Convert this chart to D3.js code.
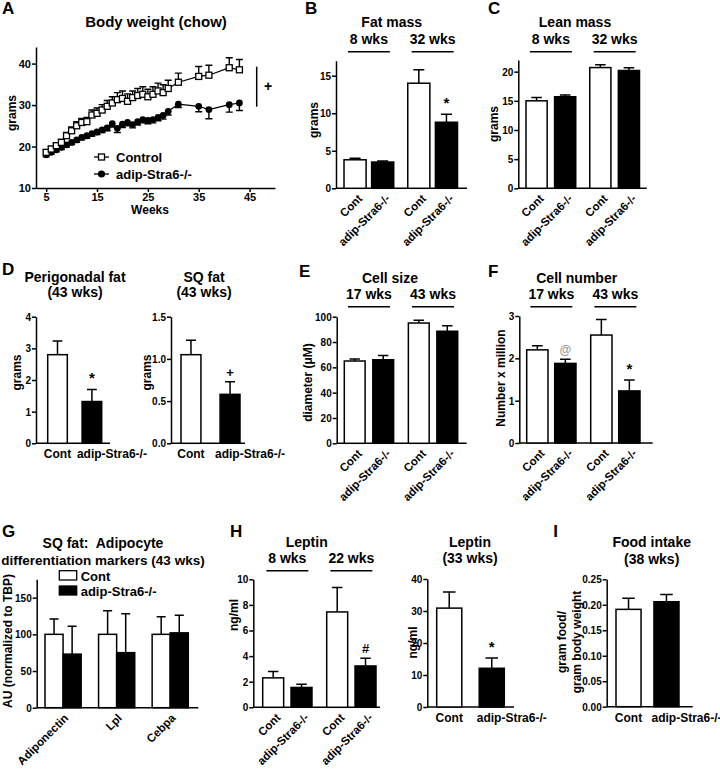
<!DOCTYPE html>
<html><head><meta charset="utf-8">
<script src="https://cdn.jsdelivr.net/npm/d3@7"></script>
<style>
body{margin:0;background:#fff}
svg{display:block}
text{font-family:"Liberation Sans",Arial,Helvetica,sans-serif;font-weight:bold;fill:#000}
</style>
</head><body>
<svg id="chart" width="720" height="770"></svg>
<script>
// ---------------- DATA ----------------
// Panel A: body weight (chow)
const weeksA = [5,6,7,8,9,10,11,12,13,14,15,16,17,18,19,20,21,22,23,24,25,26,27,28,29,31,35,37,41,43];
const controlA = [18.6,19.4,20.2,21.0,22.6,23.8,25.0,25.8,26.0,27.6,28.0,28.8,29.7,30.5,31.3,31.6,30.9,31.8,32.3,32.6,32.0,32.6,33.4,33.0,34.0,35.5,36.9,37.2,39.0,38.5];
const controlErrA = [0.6,0.6,0.6,0.7,0.8,0.9,1.0,1.0,1.0,1.2,1.3,1.3,1.4,1.5,1.7,1.8,1.8,1.6,1.7,1.8,1.8,1.8,1.9,1.9,2.0,2.2,2.4,2.4,2.4,2.5];
const stra6A = [18.0,18.6,19.2,19.8,20.4,21.0,21.6,22.2,22.6,23.1,23.5,24.0,24.5,25.5,24.4,25.4,25.8,25.3,26.0,26.5,26.3,26.5,27.0,27.5,28.5,30.2,29.7,28.9,30.1,30.5];
const stra6ErrA = [0.5,0.5,0.5,0.5,0.5,0.5,0.6,0.6,0.6,0.6,0.6,0.6,0.7,0.8,1.0,0.8,0.8,0.8,0.8,0.8,0.8,0.8,0.8,0.9,0.9,0.8,1.3,2.2,1.8,1.8];
const weekTicksA = [5,15,25,35,45];
const gramTicksA = [10,20,30,40];
const seriesNamesA = ["Control","adip-Stra6-/-"];

const genotypes = ["Cont","adip-Stra6-/-"];

// Panel B: fat mass
const agesB = ["8 wks","32 wks"];
const fatMassB = [3.8,3.5,14.0,8.8];
const fatMassErrB = [0.2,0.15,1.8,1.05];
const fatMassSigB = ["","","","*"];
const ticksB = [0,5,10,15];

// Panel C: lean mass
const agesC = ["8 wks","32 wks"];
const leanMassC = [15.0,15.7,20.7,20.2];
const leanMassErrC = [0.55,0.3,0.5,0.45];
const ticksC = [0,5,10,15,20];

// Panel D: perigonadal and SQ fat (43 wks)
const perigonadalD = [2.8,1.32];
const perigonadalErrD = [0.43,0.38];
const perigonadalSigD = ["","*"];
const ticksD1 = [0,1,2,3,4];
const sqFatD = [1.05,0.58];
const sqFatErrD = [0.17,0.15];
const sqFatSigD = ["","+"];
const ticksD2 = [0,0.5,1.0,1.5];

// Panel E: cell size
const agesE = ["17 wks","43 wks"];
const cellSizeE = [65.0,66.0,95.0,88.5];
const cellSizeErrE = [1.6,3.3,2.1,4.3];
const ticksE = [0,20,40,60,80,100];

// Panel F: cell number
const agesF = ["17 wks","43 wks"];
const cellNumberF = [2.2,1.88,2.55,1.23];
const cellNumberErrF = [0.1,0.1,0.37,0.26];
const cellNumberSigF = ["","@","","*"];
const ticksF = [0,1,2,3];

// Panel G: SQ fat adipocyte differentiation markers
const markersG = ["Adiponectin","Lpl","Cebpa"];
const contG = [100,100,100];
const contErrG = [21,32,24];
const stra6G = [73,75,102];
const stra6ErrG = [38,53,24];
const ticksG = [0,50,100,150];

// Panel H: leptin
const agesH = ["8 wks","22 wks"];
const leptinH = [2.3,1.55,7.45,3.23];
const leptinErrH = [0.5,0.25,1.9,0.6];
const leptinSigH = ["","","","#"];
const ticksH1 = [0,2,4,6,8,10];
const leptin33H = [30.9,12.1];
const leptin33ErrH = [5.0,3.2];
const leptin33SigH = ["","*"];
const ticksH2 = [0,10,20,30,40];

// Panel I: food intake
const foodI = [0.191,0.206];
const foodErrI = [0.022,0.014];
const ticksI = [0,0.05,0.10,0.15,0.20,0.25];

// ---------------- DRAWING ----------------
const svg = d3.select("#chart");
const FONT = '"Liberation Sans", Arial, Helvetica, sans-serif';

function T(x,y,s,size,anchor,rot,fill){
  const t = svg.append("text").attr("x",x).attr("y",y).text(s)
    .attr("font-size",size).attr("text-anchor",anchor||"middle");
  if(rot!==undefined && rot!==null) t.attr("transform",`rotate(${rot},${x},${y})`);
  if(fill) t.style("fill",fill);
  return t;
}
function L(x1,y1,x2,y2,w){
  return svg.append("line").attr("x1",x1).attr("y1",y1).attr("x2",x2).attr("y2",y2)
    .attr("stroke","#000").attr("stroke-width",w||1.5);
}
function axisY(y,x,ticks,fmt,fs){
  const g = svg.append("g").attr("transform",`translate(${x},0)`)
    .call(d3.axisLeft(y).tickValues(ticks).tickFormat(fmt).tickSize(4).tickSizeOuter(0));
  g.attr("font-family",FONT).attr("font-size",fs);
  g.select(".domain").attr("stroke","#000").attr("stroke-width",1.5);
  g.selectAll(".tick line").attr("stroke","#000").attr("stroke-width",1.5);
  g.selectAll(".tick text").attr("x",-5).attr("dy","0.34em");
  return g;
}
function yTitle(x,y,lines,fs){
  lines.forEach((s,i)=>T(x+i*15,y,s,fs||12,"middle",-90));
}

// ----- Panel A -----
(function(){
  const x = d3.scaleLinear().domain([3,50]).range([36,275]);
  const y = d3.scaleLinear().domain([10,44]).range([188,47]);
  axisY(y,36,gramTicksA,d3.format("d"),11);
  const gx = svg.append("g").attr("transform","translate(0,188)")
    .call(d3.axisBottom(x).tickValues(weekTicksA).tickSize(4).tickSizeOuter(0));
  gx.attr("font-family",FONT).attr("font-size",11);
  gx.select(".domain").attr("stroke","#000").attr("stroke-width",1.5);
  gx.selectAll(".tick line").attr("stroke","#000").attr("stroke-width",1.5);
  gx.selectAll(".tick text").attr("y",5);

  const ctrl = weeksA.map((w,i)=>({w,v:controlA[i],e:controlErrA[i]}));
  const ko = weeksA.map((w,i)=>({w,v:stra6A[i],e:stra6ErrA[i]}));
  const line = d3.line().x(d=>x(d.w)).y(d=>y(d.v));
  const g = svg.append("g");
  // knockout series
  g.append("path").datum(ko).attr("d",line).attr("fill","none").attr("stroke","#000").attr("stroke-width",1.2);
  g.selectAll(".koe").data(ko).join("path").attr("class","koe")
    .attr("d",d=>`M${x(d.w)},${y(d.v)}V${y(d.v-d.e)}M${x(d.w)-3.5},${y(d.v-d.e)}H${x(d.w)+3.5}`)
    .attr("stroke","#000").attr("stroke-width",1.4).attr("fill","none");
  g.selectAll(".kop").data(ko).join("circle").attr("class","kop")
    .attr("cx",d=>x(d.w)).attr("cy",d=>y(d.v)).attr("r",3.4).attr("fill","#000");
  // control series
  g.append("path").datum(ctrl).attr("d",line).attr("fill","none").attr("stroke","#000").attr("stroke-width",1.2);
  g.selectAll(".ce").data(ctrl).join("path").attr("class","ce")
    .attr("d",d=>`M${x(d.w)},${y(d.v)}V${y(d.v+d.e)}M${x(d.w)-3.5},${y(d.v+d.e)}H${x(d.w)+3.5}`)
    .attr("stroke","#000").attr("stroke-width",1.4).attr("fill","none");
  g.selectAll(".cp").data(ctrl).join("rect").attr("class","cp")
    .attr("x",d=>x(d.w)-3).attr("y",d=>y(d.v)-3).attr("width",6).attr("height",6)
    .attr("fill","#fff").attr("stroke","#000").attr("stroke-width",1.3);

  // legend
  L(94,157,109,157,1.3);
  svg.append("rect").attr("x",98.5).attr("y",154).attr("width",6).attr("height",6).attr("fill","#fff").attr("stroke","#000").attr("stroke-width",1.3);
  T(116,161.5,seriesNamesA[0],13,"start");
  L(94,174,109,174,1.3);
  svg.append("circle").attr("cx",101.5).attr("cy",174).attr("r",3.6).attr("fill","#000");
  T(116,178.5,seriesNamesA[1],13,"start");

  // significance bracket
  L(256.7,66.7,256.7,106.7,1.5);
  T(268,91,"+",14);

  T(2,14,"A",17,"start");
  T(156,27,"Body weight (chow)",15);
  T(150,214,"Weeks",12);
  yTitle(16,113,["grams"],12);
})();

// ----- Generic bar panel -----
function barPanel(o){
  const y = d3.scaleLinear().domain([0,o.max]).range([o.yBot,o.yTop]);
  axisY(y,o.axisX,o.ticks,o.fmt||(d=>d),10);
  L(o.axisX,o.yBot,o.axisEnd,o.yBot,1.5);
  const subs = o.subs || genotypes;
  const items = [];
  let xg = null;
  if(o.groups){
    xg = d3.scaleBand().domain(o.groups).range(o.barRange).paddingInner(o.groupPad);
    const xs = d3.scaleBand().domain(subs).range([0,xg.bandwidth()]).paddingInner(o.subPad);
    o.values.forEach((v,i)=>{
      const g = o.groups[Math.floor(i/subs.length)], s = subs[i%subs.length];
      items.push({v,e:o.errs[i],x:xg(g)+xs(s),w:xs.bandwidth(),k:i%subs.length,label:s,sig:o.sig?o.sig[i]:""});
    });
  } else {
    const xb = d3.scaleBand().domain(subs).range(o.barRange).paddingInner(o.pad);
    o.values.forEach((v,i)=>items.push({v,e:o.errs[i],x:xb(subs[i]),w:xb.bandwidth(),k:i,label:subs[i],sig:o.sig?o.sig[i]:""}));
  }
  const g = svg.append("g");
  g.selectAll(".eb").data(items).join("path").attr("class","eb")
    .attr("d",d=>{const cx=d.x+d.w/2, t=y(d.v+d.e); return `M${cx},${y(d.v)}V${t}M${cx-d.w/4},${t}H${cx+d.w/4}`;})
    .attr("stroke","#000").attr("stroke-width",1.5).attr("fill","none");
  g.selectAll(".bar").data(items).join("rect").attr("class","bar")
    .attr("x",d=>d.x).attr("y",d=>y(d.v)).attr("width",d=>d.w).attr("height",d=>o.yBot-y(d.v))
    .attr("fill",d=>d.k?"#000":"#fff").attr("stroke","#000").attr("stroke-width",1.5);
  items.filter(d=>d.sig).forEach(d=>{
    const cx=d.x+d.w/2, t=y(d.v+d.e);
    if(d.sig==="*") T(cx,t-6,d.sig,15);
    else if(d.sig==="@") T(cx,t-5,d.sig,12,"middle",null,"#999");
    else T(cx,t-5,d.sig,13);
  });
  // x labels
  if(o.labelMode==="rot"){
    items.forEach(d=>{const ax=d.x+d.w/2+8, ay=o.yBot+11; T(ax,ay,d.label,11.5,"end",-45);});
  } else if(o.labelMode==="flat"){
    items.forEach((d,i)=>{const cx=d.x+d.w/2; if(i===0) T(cx,o.yBot+15,d.label,12,"middle"); else T(cx-15,o.yBot+15,d.label,12,"start");});
  } else if(o.labelMode==="groupRot"){
    o.groups.forEach(gn=>{const cx=xg(gn)+xg.bandwidth()/2+6; T(cx,o.yBot+11,gn,11.5,"end",-45);});
  }
  if(o.headers && xg){
    o.groups.forEach(gn=>{const cx=xg(gn)+xg.bandwidth()/2; T(cx,o.headerY,gn,14); L(cx-21,o.headerY+7.4,cx+21,o.headerY+7.4,1.5);});
  }
  return {y,xg};
}

// ----- Panel B -----
barPanel({axisX:336,axisEnd:467,yTop:60.7,yBot:188.3,max:17,ticks:ticksB,groups:agesB,values:fatMassB,errs:fatMassErrB,sig:fatMassSigB,
  barRange:[344,457.5],groupPad:0.22,subPad:0.2,labelMode:"rot",headers:true,headerY:44.3});
T(305,14,"B",17,"start");
T(391.7,26.7,"Fat mass",14);
yTitle(318,120,["grams"],12);

// ----- Panel C -----
barPanel({axisX:518.3,axisEnd:646.7,yTop:60,yBot:188.3,max:22,ticks:ticksC,groups:agesC,values:leanMassC,errs:leanMassErrC,
  barRange:[526,639.5],groupPad:0.22,subPad:0.26,labelMode:"rot",headers:true,headerY:44.3});
T(488,14,"C",17,"start");
T(575,26.7,"Lean mass",14);
yTitle(498,124,["grams"],12);

// ----- Panel D -----
barPanel({axisX:36,axisEnd:110,yTop:316.7,yBot:443.3,max:4,ticks:ticksD1,values:perigonadalD,errs:perigonadalErrD,sig:perigonadalSigD,
  barRange:[47.7,101.7],pad:0.43,labelMode:"flat"});
barPanel({axisX:171,axisEnd:245,yTop:316.7,yBot:443.3,max:1.5,ticks:ticksD2,fmt:d3.format(".1f"),values:sqFatD,errs:sqFatErrD,sig:sqFatSigD,
  barRange:[181,240],pad:0.49,labelMode:"flat"});
T(2,275,"D",17,"start");
T(75,281.7,"Perigonadal fat",14);
T(75,297.3,"(43 wks)",14);
T(204,281.7,"SQ fat",14);
T(204,297.3,"(43 wks)",14);
yTitle(20.7,372.5,["grams"],12);
yTitle(150.7,372.5,["grams"],12);

// ----- Panel E -----
barPanel({axisX:336.7,axisEnd:466.7,yTop:316.7,yBot:443.3,max:100,ticks:ticksE,groups:agesE,values:cellSizeE,errs:cellSizeErrE,
  barRange:[344.3,457.7],groupPad:0.23,subPad:0.27,labelMode:"rot",headers:true,headerY:299.3});
T(299,276.7,"E",17,"start");
T(390,282.7,"Cell size",14);
yTitle(311.7,382.5,["diameter (\u03BCM)"],12);

// ----- Panel F -----
barPanel({axisX:519.3,axisEnd:652.7,yTop:316,yBot:443,max:3,ticks:ticksF,groups:agesF,values:cellNumberF,errs:cellNumberErrF,sig:cellNumberSigF,
  barRange:[526.7,640],groupPad:0.23,subPad:0.24,labelMode:"rot",headers:true,headerY:299.3});
T(488,276.7,"F",17,"start");
T(576.7,282.7,"Cell number",14);
yTitle(505,378,["Number x million"],12);

// ----- Panel G -----
barPanel({axisX:36.7,axisEnd:198.3,yTop:579.3,yBot:707.7,max:175,ticks:ticksG,groups:markersG,subs:genotypes,
  values:markersG.flatMap((m,i)=>[contG[i],stra6G[i]]),errs:markersG.flatMap((m,i)=>[contErrG[i],stra6ErrG[i]]),
  barRange:[45,188.3],groupPad:0.325,subPad:0,labelMode:"groupRot"});
T(2,536.7,"G",17,"start");
T(103,547.7,"SQ fat:\u00A0 Adipocyte",14);
T(103,565,"differentiation markers (43 wks)",13.5);
svg.append("rect").attr("x",59.3).attr("y",570.7).attr("width",17.4).attr("height",9.3).attr("fill","#fff").attr("stroke","#000").attr("stroke-width",1.3);
T(80.7,580.5,genotypes[0],13,"start");
svg.append("rect").attr("x",59.3).attr("y",586).attr("width",17.4).attr("height",9).attr("fill","#000").attr("stroke","#000").attr("stroke-width",1.3);
T(80.7,596,genotypes[1],13,"start");
yTitle(11.7,641,["AU (normalized to TBP)"],12);

// ----- Panel H -----
barPanel({axisX:253.3,axisEnd:380,yTop:579.3,yBot:707.3,max:10,ticks:ticksH1,groups:agesH,values:leptinH,errs:leptinErrH,sig:leptinSigH,
  barRange:[262.7,376],groupPad:0.23,subPad:0.26,labelMode:"rot",headers:true,headerY:563.3});
T(230,536.7,"H",17,"start");
T(306.7,546.7,"Leptin",14);
yTitle(238,615,["ng/ml"],12);
barPanel({axisX:427.3,axisEnd:514,yTop:579,yBot:707,max:40,ticks:ticksH2,values:leptin33H,errs:leptin33ErrH,sig:leptin33SigH,
  barRange:[436.7,504.3],pad:0.41,labelMode:"flat"});
T(470,546.7,"Leptin",14);
T(470,563.3,"(33 wks)",14);
yTitle(417,642.5,["ng/ml"],12);

// ----- Panel I -----
barPanel({axisX:606.7,axisEnd:692.7,yTop:579.3,yBot:706.7,max:0.25,ticks:ticksI,fmt:d3.format(".2f"),values:foodI,errs:foodErrI,
  barRange:[616,679],pad:0.34,labelMode:"flat"});
T(553.3,536.7,"I",17,"start");
T(651.7,546.7,"Food intake",14);
T(651.7,564.3,"(38 wks)",14);
yTitle(565.7,642,["gram food/","gram body weight"],12);
</script>
</body></html>
